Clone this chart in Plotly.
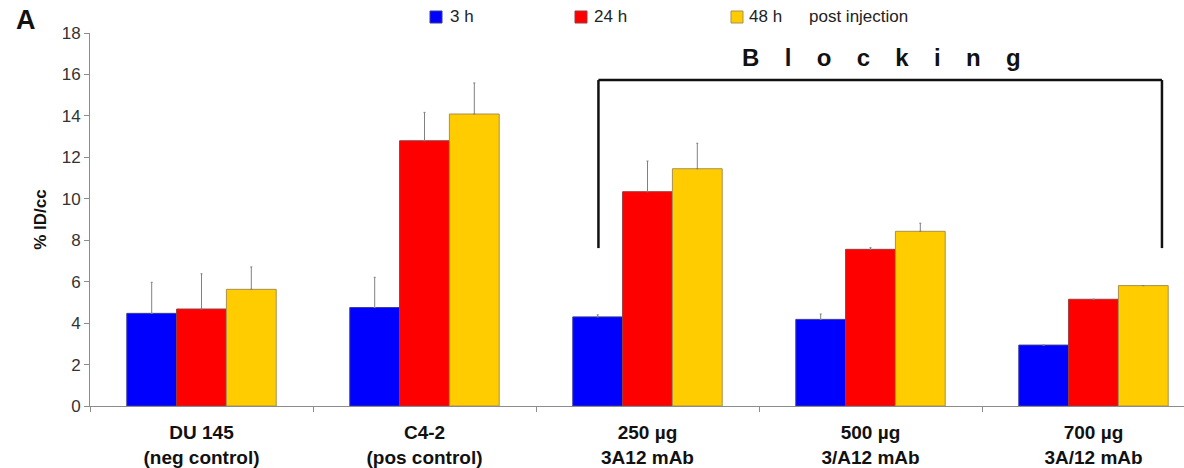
import plotly.graph_objects as go

# Groups and time points
categories = ["DU 145<br>(neg control)", "C4-2<br>(pos control)", "250 µg<br>3A12 mAb",
              "500 µg<br>3/A12 mAb", "700 µg<br>3A/12 mAb"]
timepoints = ["3 h", "24 h", "48 h"]

# Uptake (% ID/cc) per group at each time point
vals_3h = [4.47, 4.75, 4.30, 4.18, 2.94]
vals_24h = [4.68, 12.80, 10.34, 7.56, 5.15]
vals_48h = [5.63, 14.09, 11.45, 8.43, 5.81]

# Standard deviation (upper error bar only)
err_3h = [1.50, 1.46, 0.10, 0.26, 0.0]
err_24h = [1.70, 1.37, 1.48, 0.08, 0.0]
err_48h = [1.08, 1.50, 1.23, 0.39, 0.0]

colors = ["#0000FF", "#FF0000", "#FFCC00"]
edge_colors = ["#3a3a9a", "#9a3a3a", "#a89050"]

W, H = 1184, 468
ML, MR, MT, MB = 90, 0, 33, 62
PW, PH = W - ML - MR, H - MT - MB

def px_x(x):
    return (x - ML) / PW

def px_y(y):
    return (H - MB - y) / PH

fig = go.Figure()
for name, vals, errs, col, ecol in zip(timepoints, [vals_3h, vals_24h, vals_48h],
                                        [err_3h, err_24h, err_48h], colors, edge_colors):
    fig.add_trace(go.Bar(
        x=categories, y=vals, name=name,
        marker=dict(color=col, line=dict(color=ecol, width=1)),
        error_y=dict(type="data", array=errs, arrayminus=[0] * len(errs), symmetric=False,
                     color="#808080", thickness=1, width=1),
        showlegend=False,
    ))

fig.update_layout(
    width=W, height=H,
    margin=dict(l=ML, r=MR, t=MT, b=MB),
    paper_bgcolor="white", plot_bgcolor="white",
    barmode="group", bargap=0.33, bargroupgap=0,
    font=dict(family="Liberation Sans, Arial, sans-serif", color="#222"),
    xaxis=dict(
        range=[-0.5, -0.5 + PW / 223.0],
        showline=True, linecolor="#8c8c8c", linewidth=1,
        ticks="outside", tickson="boundaries", ticklen=5, tickcolor="#8c8c8c",
        tickfont=dict(size=19, color="#111", weight="bold"),
        ticklabelstandoff=9,
        showgrid=False, zeroline=False,
    ),
    yaxis=dict(
        range=[0, 18], dtick=2,
        showline=True, linecolor="#8c8c8c", linewidth=1,
        ticks="outside", ticklen=5, tickcolor="#8c8c8c",
        tickfont=dict(size=17, color="#333"),
        showgrid=False, zeroline=False,
        title=dict(text="<b>% ID/cc</b>", font=dict(size=17, color="#111"), standoff=10),
    ),
)

# "Blocking" bracket over the three antibody groups
bracket = dict(type="line", xref="x", yref="y", line=dict(color="#111", width=2.5))
fig.add_shape(**bracket, x0=1.78, x1=4.307, y0=15.73, y1=15.73)
fig.add_shape(**bracket, x0=1.78, x1=1.78, y0=7.62, y1=15.73)
fig.add_shape(**bracket, x0=4.307, x1=4.307, y0=7.62, y1=15.73)
fig.add_annotation(
    x=px_x(881), y=px_y(57), xref="paper", yref="paper", showarrow=False,
    text="<b>" + "\u2002\u00a0\u00a0".join("Blocking") + "</b>",
    font=dict(size=24, color="#111"), xanchor="center", yanchor="middle",
)

# Legend row drawn above the plot
legend_sq = [430, 575, 731]
legend_tx = [448, 592, 747]
for name, col, ecol, sx, tx in zip(timepoints, colors, edge_colors, legend_sq, legend_tx):
    fig.add_shape(type="rect", xref="paper", yref="paper",
                  x0=px_x(sx), x1=px_x(sx + 12), y0=px_y(23), y1=px_y(11),
                  fillcolor=col, line=dict(color=ecol, width=1))
    fig.add_annotation(x=px_x(tx), y=px_y(17), xref="paper", yref="paper", showarrow=False,
                       text=name, font=dict(size=17, color="#222"),
                       xanchor="left", yanchor="middle")
fig.add_annotation(x=px_x(807), y=px_y(17), xref="paper", yref="paper", showarrow=False,
                   text="post injection", font=dict(size=17, color="#222"),
                   xanchor="left", yanchor="middle")

# Panel letter
fig.add_annotation(x=px_x(14), y=px_y(20), xref="paper", yref="paper", showarrow=False,
                   text="<b>A</b>", font=dict(size=27, color="#111"),
                   xanchor="left", yanchor="middle")

fig.write_html("out.html")
